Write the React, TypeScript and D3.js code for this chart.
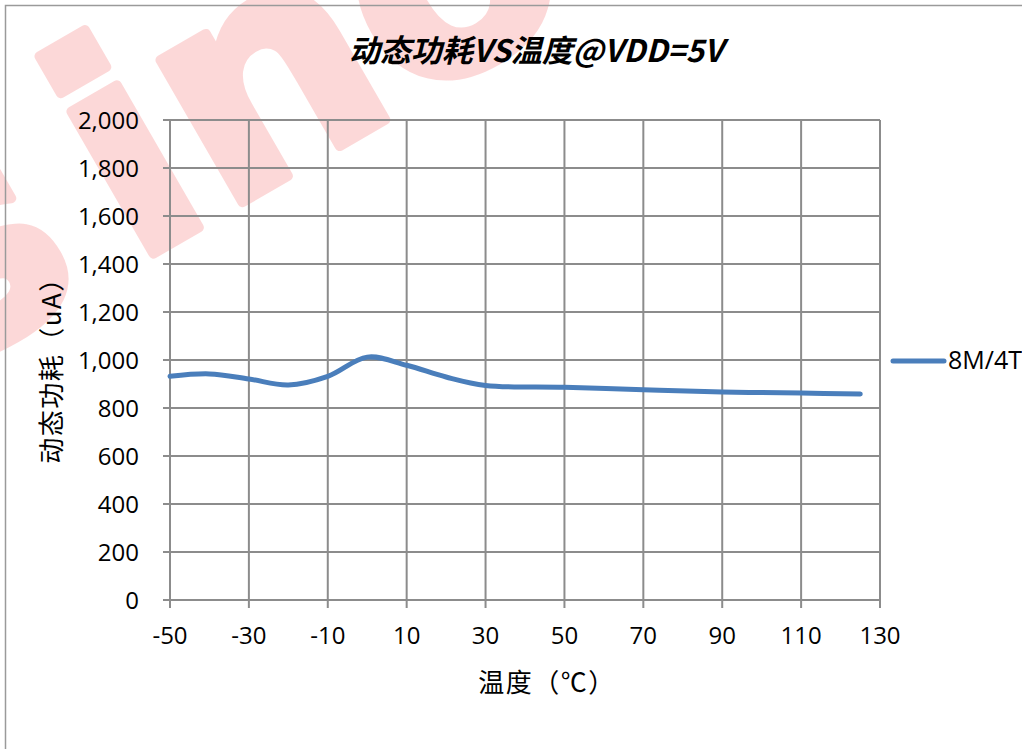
import React from "react";
import * as d3 from "d3";

const temps = [-50, -40, -30, -20, -10, 0, 10, 20, 30, 50, 70, 90, 110, 125];
const current = [932, 942, 921, 896, 932, 1012, 978, 929, 894, 886, 876, 867, 862, 858];
const seriesName = "8M/4T";
const xTicks = [-50, -30, -10, 10, 30, 50, 70, 90, 110, 130];
const yTicks = [0, 200, 400, 600, 800, 1000, 1200, 1400, 1600, 1800, 2000];
const title = "动态功耗VS温度@VDD=5V";
const xTitle = "温度（℃）";
const yTitle = "动态功耗（uA）";
const watermarkHead = "s";
const watermarkTail = "ino";

const W = 1022;
const H = 749;
const plot = { left: 170, right: 880, top: 120, bottom: 600 };
const gridColor = "#8c8c8c";
const lineColor = "#4a7ebb";
const tickFont = "'Open Sans', 'Noto Sans', sans-serif";
const cjkFont = "'Noto Sans CJK SC', 'Noto Sans', sans-serif";

export default function App() {
  const x = d3.scaleLinear().domain([-50, 130]).range([plot.left, plot.right]);
  const y = d3.scaleLinear().domain([0, 2000]).range([plot.bottom, plot.top]);
  const fmt = d3.format(",");
  const pts: [number, number][] = temps.map((t, i) => [t, current[i]]);
  const line = d3
    .line<[number, number]>()
    .x((d) => x(d[0]))
    .y((d) => y(d[1]))
    .curve(d3.curveCatmullRom.alpha(0.5));

  return (
    <svg
      width={W}
      height={H}
      style={{ position: "absolute", left: 0, top: 0, background: "#fff" }}
    >
      <defs>
        <linearGradient id="wm" gradientUnits="userSpaceOnUse" x1="0" y1="0" x2="40" y2="0">
          <stop offset="0" stopColor="#e62222" />
          <stop offset="0.25" stopColor="#f49a9a" />
          <stop offset="0.55" stopColor="#fcd6d6" />
          <stop offset="1" stopColor="#fcd8d8" />
        </linearGradient>
      </defs>
      {/* watermark */}
      <text
        transform="translate(-62,378) rotate(-30)"
        fontFamily="'DejaVu Sans', sans-serif"
        fontWeight="bold"
        fontSize={300}
        fill="url(#wm)"
        stroke="url(#wm)"
        strokeWidth={10}
        strokeLinejoin="round"
      >
        {watermarkHead}
        <tspan dx={45}>{watermarkTail}</tspan>
      </text>

      {/* outer border */}
      <rect x={5.5} y={5.5} width={W + 20} height={H + 20} fill="none" stroke="#9a9a9a" strokeWidth={1.5} />

      {/* title */}
      <text
        x={536}
        y={62}
        textAnchor="middle"
        fontFamily={cjkFont}
        fontWeight="bold"
        fontStyle="italic"
        fontSize={31}
        fill="#000"
      >
        {title}
      </text>

      {/* grid */}
      <g stroke={gridColor} strokeWidth={2}>
        {yTicks.map((t) => (
          <line key={"gy" + t} x1={plot.left - 7} x2={plot.right} y1={y(t)} y2={y(t)} />
        ))}
        {xTicks.map((t) => (
          <line key={"gx" + t} x1={x(t)} x2={x(t)} y1={plot.top} y2={plot.bottom + 8} />
        ))}
      </g>

      {/* y tick labels */}
      {yTicks.map((t) => (
        <text
          key={"ly" + t}
          x={139}
          y={y(t) + 8.5}
          textAnchor="end"
          fontFamily={tickFont}
          fontSize={24}
          fill="#000"
        >
          {fmt(t)}
        </text>
      ))}

      {/* x tick labels */}
      {xTicks.map((t) => (
        <text
          key={"lx" + t}
          x={x(t)}
          y={644}
          textAnchor="middle"
          fontFamily={tickFont}
          fontSize={24}
          fill="#000"
        >
          {t}
        </text>
      ))}

      {/* axis titles */}
      <text
        x={547}
        y={692}
        textAnchor="middle"
        fontFamily={cjkFont}
        fontSize={26}
        letterSpacing={1.5}
        fill="#000"
      >
        {xTitle}
      </text>
      <text
        transform="translate(61,364) rotate(-90)"
        textAnchor="middle"
        fontFamily={cjkFont}
        fontSize={26}
        letterSpacing={1.5}
        fill="#000"
      >
        {yTitle}
      </text>

      {/* series */}
      <path d={line(pts) || ""} fill="none" stroke={lineColor} strokeWidth={5} strokeLinecap="round" strokeLinejoin="round" />

      {/* legend */}
      <line x1={893} x2={944} y1={361} y2={361} stroke={lineColor} strokeWidth={5} strokeLinecap="round" />
      <text x={948} y={369} fontFamily={tickFont} fontSize={25} fill="#000">
        {seriesName}
      </text>
    </svg>
  );
}
